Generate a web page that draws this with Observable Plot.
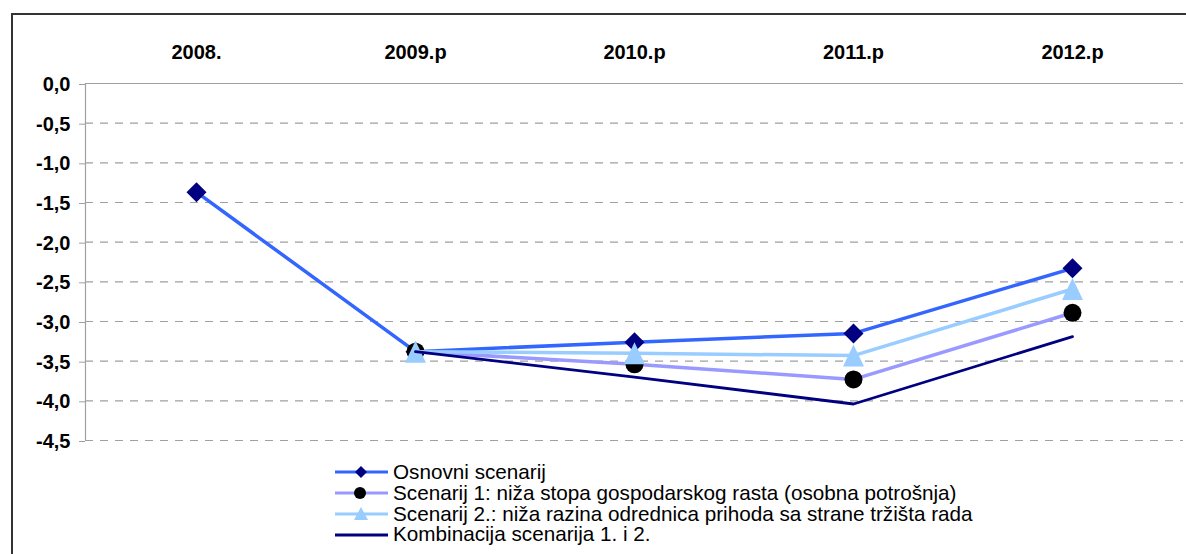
<!DOCTYPE html>
<html>
<head>
<meta charset="utf-8">
<script src="https://cdn.jsdelivr.net/npm/d3@7"></script>
<script src="https://cdn.jsdelivr.net/npm/@observablehq/plot@0.6"></script>
<style>
  body { margin: 0; background: #fff; font-family: "Liberation Sans", Arial, sans-serif; }
  #wrap { position: relative; width: 1186px; height: 554px; overflow: hidden; background: #fff; }
  #chart { position: absolute; left: 0; top: 0; }
  #frame { position: absolute; left: 11px; top: 13px; right: 0; bottom: 0;
           border-top: 2px solid #333; border-left: 2px solid #333; pointer-events: none; }
  #legend { position: absolute; left: 335px; top: 462px; }
  .row { display: flex; align-items: center; height: 20.8px; line-height: 20.8px;
         font-size: 20.7px; color: #000; white-space: nowrap; }
  .row svg { flex: none; margin-right: 4px; }
</style>
</head>
<body>
<div id="wrap">
  <div id="chart"></div>
  <div id="frame"></div>
  <div id="legend"></div>
</div>
<script>
// ---- data ----
const years = ["2008.", "2009.p", "2010.p", "2011.p", "2012.p"];
const osnovni     = [-1.37, -3.38, -3.26, -3.15, -2.33];
const scenarij1   = [null,  -3.38, -3.54, -3.73, -2.89];
const scenarij2   = [null,  -3.38, -3.40, -3.43, -2.59];
const kombinacija = [null,  -3.38, -3.70, -4.04, -3.19];
const yTicks = [0, -0.5, -1, -1.5, -2, -2.5, -3, -3.5, -4, -4.5];
const seriesNames = [
  "Osnovni scenarij",
  "Scenarij 1: niža stopa gospodarskog rasta (osobna potrošnja)",
  "Scenarij 2.: niža razina odrednica prihoda sa strane tržišta rada",
  "Kombinacija scenarija 1. i 2."
];
const lineColors = ["#3366FF", "#9999FF", "#99CCFF", "#000080"];
const markerColors = ["#000080", "#000000", "#99CCFF", null];

const toRows = arr => years.map((y, i) => ({year: y, value: arr[i]})).filter(d => d.value != null);
const rowsO = toRows(osnovni), rows1 = toRows(scenarij1), rows2 = toRows(scenarij2), rowsK = toRows(kombinacija);

// custom symbols (centered on bounding box)
const diamondSym = {draw(ctx, size) { const r = Math.sqrt(size / Math.PI);
  ctx.moveTo(0, -r); ctx.lineTo(r, 0); ctx.lineTo(0, r); ctx.lineTo(-r, 0); ctx.closePath(); }};
const triangleSym = {draw(ctx, size) { const r = Math.sqrt(size / Math.PI);
  const hw = r * 1.05, hh = r * 1.1;
  ctx.moveTo(0, -hh); ctx.lineTo(hw, hh); ctx.lineTo(-hw, hh); ctx.closePath(); }};

const fmt = v => v.toFixed(1).replace(".", ",").replace(/^-0,0$/, "0,0");

const leftAxisLine = (index, scales, values, dims) => {
  const l = d3.create("svg:line")
    .attr("x1", dims.marginLeft + 0.5).attr("x2", dims.marginLeft + 0.5)
    .attr("y1", dims.marginTop).attr("y2", dims.height - dims.marginBottom)
    .attr("stroke", "#a0a0a0").attr("stroke-width", 1.2);
  return l.node();
};

const chart = Plot.plot({
  width: 1186,
  height: 456,
  marginLeft: 85,
  marginRight: 3,
  marginTop: 83,
  marginBottom: 16,
  style: {background: "transparent", fontFamily: "'Liberation Sans', Arial, sans-serif",
          fontSize: "20px", fontWeight: "bold", color: "#000", overflow: "visible"},
  x: {type: "point", domain: years, padding: 0.5, axis: null},
  y: {domain: [-4.5, 0], axis: null},
  marks: [
    Plot.ruleY(yTicks.filter(v => v < 0), {stroke: "#a0a0a0", strokeWidth: 1.2, strokeDasharray: "8,7"}),
    Plot.ruleY([0], {stroke: "#a0a0a0", strokeWidth: 1.2}),
    leftAxisLine,
    Plot.line(rowsO, {x: "year", y: "value", stroke: lineColors[0], strokeWidth: 3.5}),
    Plot.dot(rowsO, {x: "year", y: "value", symbol: diamondSym, r: 10, fill: markerColors[0]}),
    Plot.line(rows1, {x: "year", y: "value", stroke: lineColors[1], strokeWidth: 3.5}),
    Plot.dot(rows1, {x: "year", y: "value", symbol: "circle", r: 9, fill: markerColors[1]}),
    Plot.line(rows2, {x: "year", y: "value", stroke: lineColors[2], strokeWidth: 3.5}),
    Plot.dot(rows2, {x: "year", y: "value", symbol: triangleSym, r: 10, fill: markerColors[2]}),
    Plot.line(rowsK, {x: "year", y: "value", stroke: lineColors[3], strokeWidth: 2.8}),
    Plot.axisY({ticks: yTicks, tickFormat: fmt, tickSize: 6, tickPadding: 9,
                stroke: "#a0a0a0", fill: "#000", label: null, dy: 1}),
    Plot.axisX({anchor: "top", tickSize: 0, tickPadding: 25, fill: "#000", label: null})
  ]
});
document.getElementById("chart").appendChild(chart);

// ---- legend ----
const legend = d3.select("#legend");
seriesNames.forEach((name, i) => {
  const row = legend.append("div").attr("class", "row");
  const sw = row.append("svg").attr("width", 54).attr("height", 20);
  sw.append("line").attr("x1", 0).attr("x2", 53).attr("y1", 10).attr("y2", 10)
    .attr("stroke", lineColors[i]).attr("stroke-width", 3);
  const cx = 26, cy = 10;
  if (i === 0) sw.append("path").attr("d", `M${cx},${cy-6}L${cx+6},${cy}L${cx},${cy+6}L${cx-6},${cy}Z`).attr("fill", markerColors[0]);
  if (i === 1) sw.append("circle").attr("cx", cx - 1).attr("cy", cy).attr("r", 6).attr("fill", markerColors[1]);
  if (i === 2) sw.append("path").attr("d", `M${cx},${cy-7}L${cx+7},${cy+6}L${cx-7},${cy+6}Z`).attr("fill", markerColors[2]);
  row.append("span").text(name);
});
</script>
</body>
</html>
